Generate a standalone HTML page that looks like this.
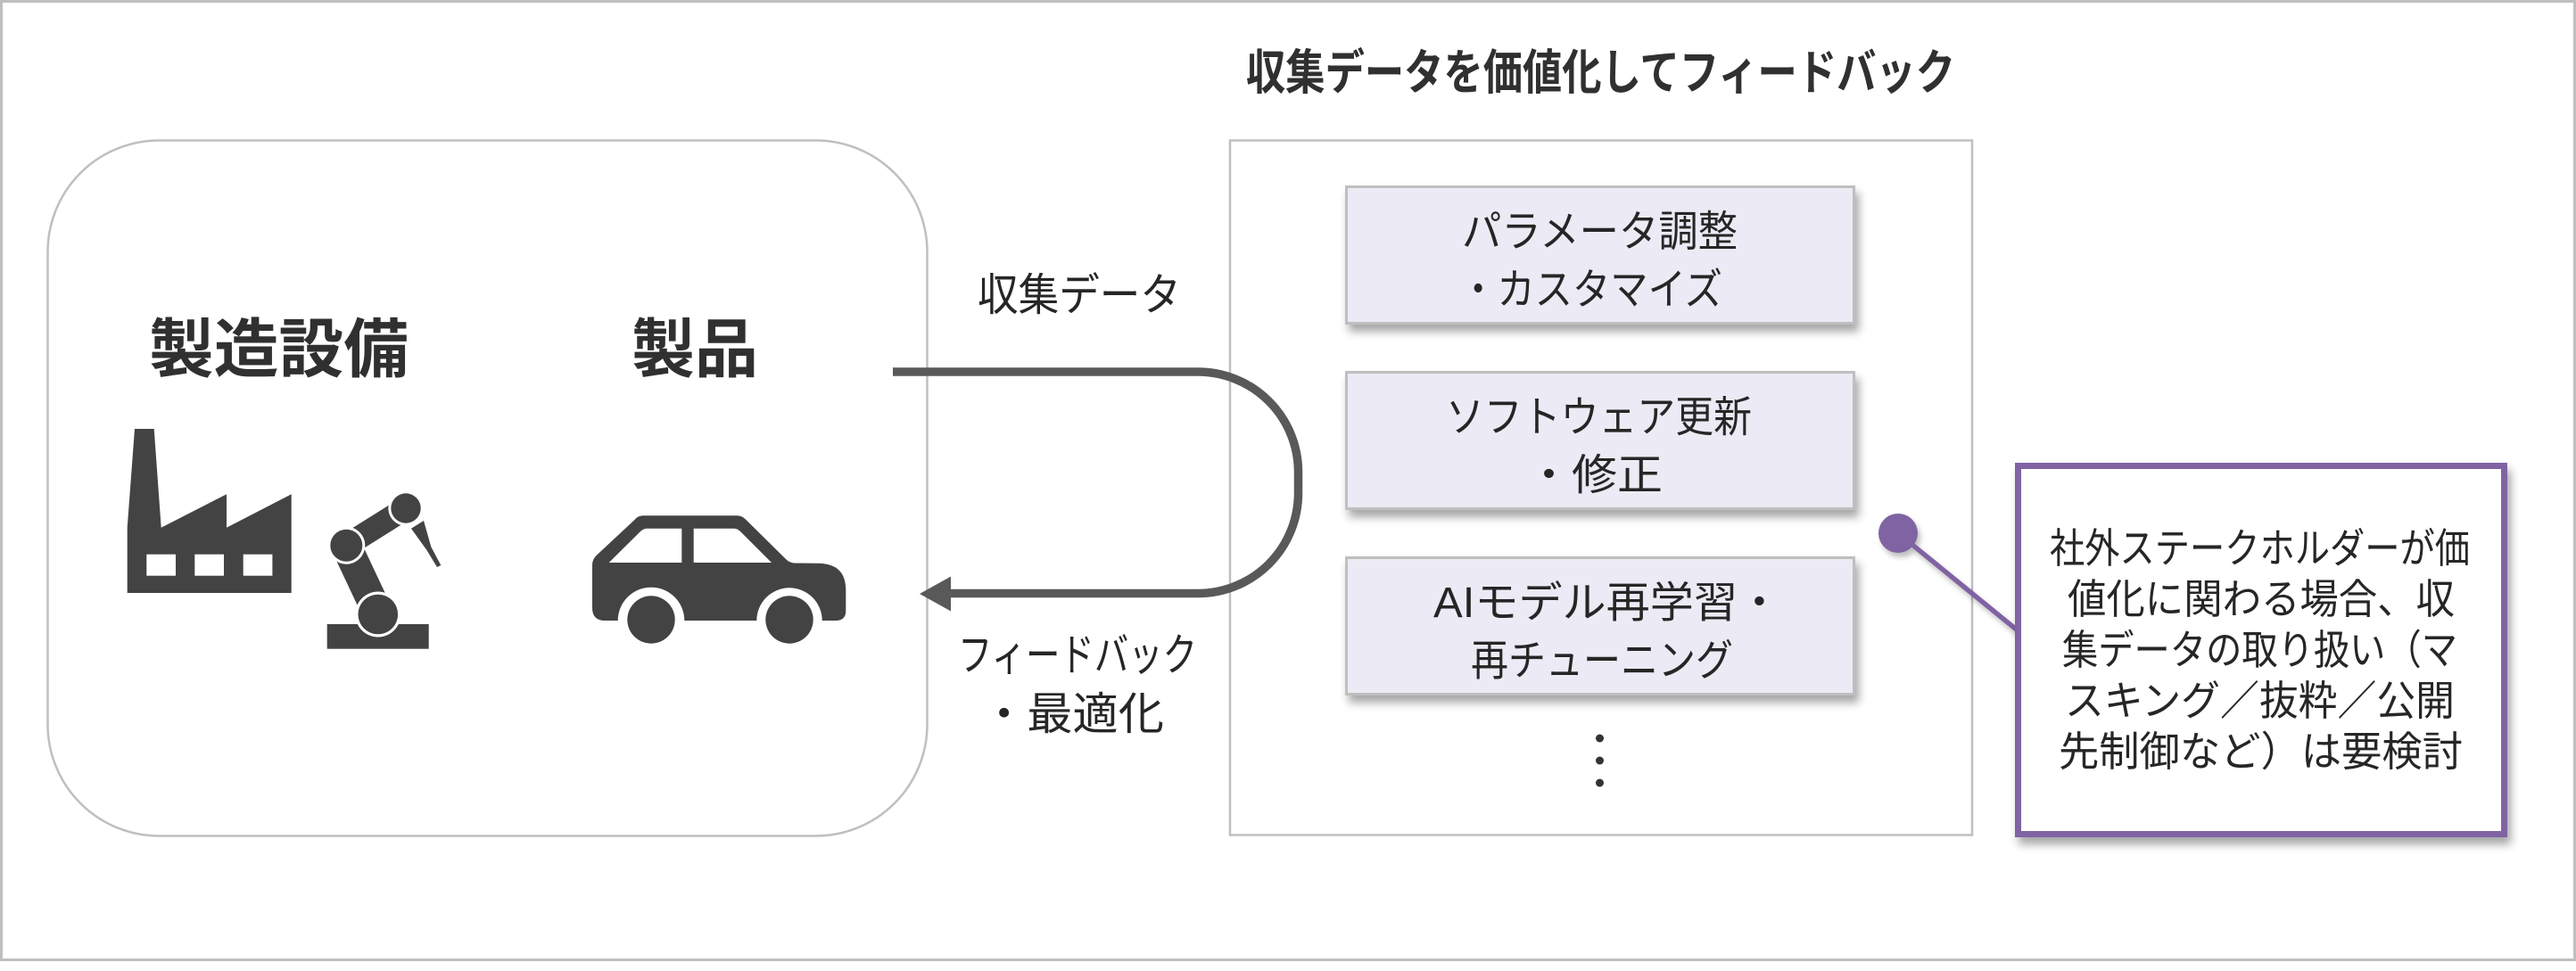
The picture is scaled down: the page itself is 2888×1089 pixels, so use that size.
<!DOCTYPE html>
<html>
<head>
<meta charset="utf-8">
<style>
  html, body { margin: 0; padding: 0; background: #ffffff; }
  body { width: 2888px; height: 1089px; overflow: hidden; }
  svg { display: block; }
  text { font-family: "Liberation Sans", "Noto Sans CJK JP", sans-serif; }
  .b { font-weight: bold; fill: #303030; }
  .r { font-weight: normal; fill: #262626; }
</style>
</head>
<body>
<svg width="2888" height="1089" viewBox="0 0 2888 1089" xmlns="http://www.w3.org/2000/svg">
  <defs>
    <filter id="sh" x="-10%" y="-10%" width="125%" height="140%">
      <feDropShadow dx="4" dy="8" stdDeviation="5" flood-color="#000" flood-opacity="0.35"/>
    </filter>
    <filter id="sh2" x="-30%" y="-30%" width="170%" height="170%">
      <feDropShadow dx="3" dy="5" stdDeviation="3" flood-color="#000" flood-opacity="0.25"/>
    </filter>
  </defs>

  <!-- outer frame -->
  <rect x="1.5" y="1.5" width="2885" height="1075" fill="#ffffff" stroke="#bfbfbf" stroke-width="3"/>

  <!-- left rounded container -->
  <rect x="53.5" y="157.5" width="986" height="780" rx="125" ry="125" fill="#ffffff" stroke="#bfbfbf" stroke-width="2.5"/>

  <!-- labels left -->
  <text class="b" x="167" y="417" font-size="72" textLength="291" lengthAdjust="spacingAndGlyphs">製造設備</text>
  <text class="b" x="708" y="417" font-size="72" textLength="142" lengthAdjust="spacingAndGlyphs">製品</text>

  <!-- factory icon -->
  <polygon fill="#434343" points="151,481 172.7,481 180.7,591.7 254,554.3 254,591.7 326.7,554.3 326.7,665 142.7,665 142.7,591.7"/>
  <rect x="164.3" y="621.7" width="32.7" height="24" fill="#ffffff"/>
  <rect x="218.3" y="621.7" width="32.7" height="24" fill="#ffffff"/>
  <rect x="272.7" y="621.7" width="32.7" height="24" fill="#ffffff"/>

  <!-- robot arm icon -->
  <rect x="366.7" y="700" width="114" height="27.7" fill="#434343"/>
  <line x1="388" y1="612" x2="420" y2="680" stroke="#434343" stroke-width="34"/>
  <line x1="388" y1="612" x2="455" y2="570" stroke="#434343" stroke-width="26"/>
  <polygon fill="#434343" points="461,592.7 475,584 483.3,613.3 494.3,634 490,636 478.3,616.7"/>
  <circle cx="388.3" cy="611.7" r="21" fill="#ffffff"/>
  <circle cx="388.3" cy="611.7" r="18" fill="#434343"/>
  <circle cx="455" cy="570" r="19.7" fill="#ffffff"/>
  <circle cx="455" cy="570" r="16.7" fill="#434343"/>
  <circle cx="423.8" cy="689" r="25.5" fill="#ffffff"/>
  <circle cx="423.8" cy="689" r="22.3" fill="#434343"/>

  <!-- car icon -->
  <path fill="#434343" d="M664,633.3 L664,681.7 Q664,696 678.3,696 L692.7,696 A37.3,37.3 0 0 1 767.3,696 L848.3,696 A36.7,36.7 0 0 1 921.7,696 L936.7,696 Q948.3,696 948.3,685 L948.3,662 Q948.3,631.7 916.7,631.7 L890,631.5 Q885,631 881,627 L836.7,583.3 Q832,578.3 826.7,578.3 L721.7,578.3 Q715,578.3 711.7,582.7 L668.3,623.3 Q664,628 664,633.3 Z"/>
  <path fill="#ffffff" d="M682.7,631 L718,596 Q721.7,592.7 725,592.7 L764.3,592.7 L764.3,631 Z"/>
  <path fill="#ffffff" d="M777.7,592.7 L823,592.7 Q826.7,592.7 830,596 L865,631 L777.7,631 Z"/>
  <circle cx="730" cy="695" r="26.7" fill="#434343"/>
  <circle cx="885" cy="695" r="26.7" fill="#434343"/>

  <!-- title -->
  <text class="b" x="1397" y="100" font-size="54" textLength="795" lengthAdjust="spacingAndGlyphs">収集データを価値化してフィードバック</text>

  <!-- right container -->
  <rect x="1379" y="157.5" width="832" height="779" fill="#ffffff" stroke="#bfbfbf" stroke-width="2.5"/>

  <!-- loop connector (drawn over container) -->
  <path d="M1001,417 H1343 A112.5,112.5 0 0 1 1455.5,529.5 V553 A112.5,112.5 0 0 1 1343,665.5 H1062" fill="none" stroke="#595959" stroke-width="9.5"/>
  <polygon fill="#595959" points="1031,666 1066,646.5 1066,685.5"/>

  <text class="r" x="1096" y="348" font-size="50" textLength="228" lengthAdjust="spacingAndGlyphs">収集データ</text>
  <text class="r" x="1074" y="752" font-size="50" textLength="268" lengthAdjust="spacingAndGlyphs">フィードバック</text>
  <text class="r" x="1100" y="818" font-size="50" textLength="205" lengthAdjust="spacingAndGlyphs">・最適化</text>

  <!-- inner boxes -->
  <rect x="1509.5" y="209.5" width="569" height="153" fill="#eceaf4" stroke="#bfbfbf" stroke-width="3" filter="url(#sh)"/>
  <rect x="1509.5" y="417.5" width="569" height="153" fill="#eceaf4" stroke="#bfbfbf" stroke-width="3" filter="url(#sh)"/>
  <rect x="1509.5" y="625.5" width="569" height="153" fill="#eceaf4" stroke="#bfbfbf" stroke-width="3" filter="url(#sh)"/>

  <text class="r" x="1639" y="276" font-size="48" textLength="309" lengthAdjust="spacingAndGlyphs">パラメータ調整</text>
  <text class="r" x="1636" y="341" font-size="48" textLength="295" lengthAdjust="spacingAndGlyphs">・カスタマイズ</text>

  <text class="r" x="1621" y="484" font-size="48" textLength="343" lengthAdjust="spacingAndGlyphs">ソフトウェア更新</text>
  <text class="r" x="1711" y="549" font-size="48" textLength="153" lengthAdjust="spacingAndGlyphs">・修正</text>

  <text class="r" x="1607" y="692" font-size="48" textLength="390" lengthAdjust="spacingAndGlyphs">AIモデル再学習・</text>
  <text class="r" x="1649" y="757" font-size="48" textLength="294" lengthAdjust="spacingAndGlyphs">再チューニング</text>

  <!-- vertical ellipsis -->
  <circle cx="1793.5" cy="828" r="4.5" fill="#333333"/>
  <circle cx="1793.5" cy="853" r="4.5" fill="#333333"/>
  <circle cx="1793.5" cy="878" r="4.5" fill="#333333"/>

  <!-- purple callout -->
  <g filter="url(#sh2)">
    <line x1="2128" y1="598" x2="2263" y2="708" stroke="#8064a2" stroke-width="5.5"/>
    <circle cx="2128" cy="598" r="22" fill="#8064a2"/>
  </g>
  <rect x="2262.5" y="522.5" width="545" height="413" fill="#ffffff" stroke="#8064a2" stroke-width="7" filter="url(#sh)"/>

  <text class="r" x="2298" y="631" font-size="46" textLength="471" lengthAdjust="spacingAndGlyphs">社外ステークホルダーが価</text>
  <text class="r" x="2318" y="688" font-size="46" textLength="434" lengthAdjust="spacingAndGlyphs">値化に関わる場合、収</text>
  <text class="r" x="2312" y="745" font-size="46" textLength="443" lengthAdjust="spacingAndGlyphs">集データの取り扱い（マ</text>
  <text class="r" x="2315" y="802" font-size="46" textLength="437" lengthAdjust="spacingAndGlyphs">スキング／抜粋／公開</text>
  <text class="r" x="2308" y="859" font-size="46" textLength="453" lengthAdjust="spacingAndGlyphs">先制御など）は要検討</text>
</svg>
</body>
</html>
